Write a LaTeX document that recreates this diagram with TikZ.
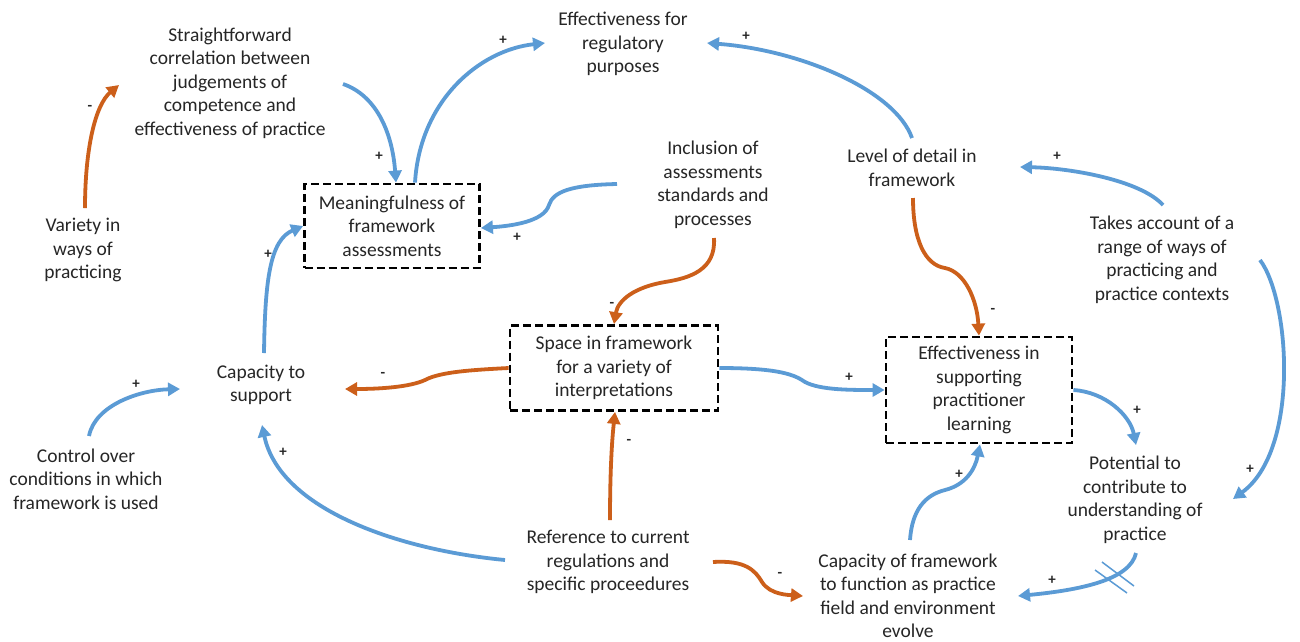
\documentclass[tikz,border=0pt]{standalone}
\usepackage{fontspec}
\setmainfont{Carlito}
\usetikzlibrary{arrows.meta,calc}
\definecolor{cblue}{HTML}{5B9BD5}
\definecolor{corange}{HTML}{CC5F1A}
\begin{document}
\begin{tikzpicture}[x=1pt,y=-1pt,
  txt/.style={align=center,font=\fontsize{19.5}{23.5}\selectfont,text=black!85,inner sep=2pt},
  dbox/.style={txt,draw=black,line width=2.8pt,dash pattern=on 8pt off 4pt},
  posarr/.style={cblue,line width=3.8pt,-{Triangle[length=12pt,width=13pt]}},
  negarr/.style={corange,line width=3.8pt,-{Triangle[length=12pt,width=13pt]}},
  sgn/.style={font=\fontsize{15}{15}\selectfont\bfseries,text=black!85,inner sep=0pt}]
\useasboundingbox (0,0) rectangle (1300,641);
\fill[white] (0,0) rectangle (1300,641);
% nodes
\node[txt] (straight) at (230,83) {Straightforward\\correlation between\\judgements of\\competence and\\effectiveness of practice};
\node[txt] (variety) at (83,250) {Variety in\\ways of\\practicing};
\node[txt] (effreg) at (623,44) {Effectiveness for\\regulatory\\purposes};
\node[dbox,minimum width=175pt,minimum height=84pt] (meaning) at (392,226) {Meaningfulness of\\framework\\assessments};
\node[txt] (inclusion) at (713,185) {Inclusion of\\assessments\\standards and\\processes};
\node[txt] (level) at (912,168) {Level of detail in\\framework};
\node[txt] (takes) at (1162,260) {Takes account of a\\range of ways of\\practicing and\\practice contexts};
\node[txt] (capsup) at (261,385) {Capacity to\\support};
\node[txt] (control) at (86,479) {Control over\\conditions in which\\framework is used};
\node[dbox,minimum width=208pt,minimum height=85pt] (space) at (614,368) {Space in framework\\for a variety of\\interpretations};
\node[dbox,minimum width=186pt,minimum height=106pt] (effsup) at (979,390) {Effectiveness in\\supporting\\practitioner\\learning};
\node[txt] (potential) at (1135,500) {Potential to\\contribute to\\understanding of\\practice};
\node[txt] (reference) at (608,562) {Reference to current\\regulations and\\specific proceedures};
\node[txt] (capfw) at (908,596) {Capacity of framework\\to function as practice\\field and environment\\evolve};
% connectors
\draw[negarr] ($(variety)+(2,-42)$) .. controls (85,150) and (95,105) .. (119,85);
\node[sgn] (s1) at (90,108) {-};
\draw[posarr] ($(straight)+(113,1)$) .. controls (375,95) and (392,130) .. ([xshift=4pt]meaning.north);
\node[sgn] (s2) at (379,156) {+};
\draw[posarr] ([xshift=23pt]meaning.north) .. controls (420,100) and (480,50) .. ($(effreg)+(-78,-1)$);
\node[sgn] (s3) at (503,40) {+};
\draw[posarr] ($(level)+(0,-30)$) .. controls (895,90) and (800,50) .. ($(effreg)+(84,-1)$);
\node[sgn] (s4) at (746,36) {+};
\draw[posarr] ($(inclusion)+(-96,-1)$) .. controls (570,185) and (553,192) .. (549,205) .. controls (544,222) and (510,226) .. ([yshift=-2pt]meaning.east);
\node[sgn] (s5) at (517,237) {+};
\draw[negarr] ($(inclusion)+(1,53)$) .. controls (716,270) and (690,278) .. (665,282) .. controls (635,287) and (618,300) .. (space.north);
\node[sgn] (s6) at (612,305) {-};
\draw[negarr] ($(level)+(1,30)$) .. controls (913,240) and (925,265) .. (945,268) .. controls (965,272) and (977,300) .. (effsup.north);
\node[sgn] (s7) at (993,311) {-};
\draw[posarr] ($(takes)+(1,-55)$) .. controls (1140,180) and (1070,168) .. ($(level)+(108,-1)$);
\node[sgn] (s8) at (1057,156) {+};
\draw[posarr] ($(takes)+(98,0)$) .. controls (1290,300) and (1300,450) .. ($(potential)+(98,-1)$);
\node[sgn] (s9) at (1250,469) {+};
\draw[negarr] (space.west) .. controls (470,370) and (440,372) .. (425,380) .. controls (410,387) and (380,389) .. ($(capsup)+(84,4)$);
\node[sgn] (s10) at (383,375) {-};
\draw[posarr] (space.east) .. controls (780,368) and (795,375) .. (805,382) .. controls (820,390) and (850,390) .. (effsup.west);
\node[sgn] (s11) at (849,377) {+};
\draw[posarr] (effsup.east) .. controls (1105,392) and (1130,415) .. ($(potential)+(1,-55)$);
\node[sgn] (s12) at (1137,410) {+};
\draw[posarr] ($(capfw)+(2,-56)$) .. controls (912,510) and (925,495) .. (945,490) .. controls (965,485) and (975,470) .. ([xshift=1pt]effsup.south);
\node[sgn] (s13) at (959,474) {+};
\draw[posarr] ($(potential)+(1,53)$) .. controls (1130,580) and (1080,590) .. ($(capfw)+(110,0)$);
\node[sgn] (s14) at (1052,580) {+};
\coordinate (h1a) at (1095,570); \coordinate (h1b) at (1127,593);
\coordinate (h2a) at (1102,562); \coordinate (h2b) at (1134,586);
\draw[cblue,line width=1.5pt] (h1a) -- (h1b) (h2a) -- (h2b);
\draw[negarr] ($(reference)+(2,-42)$) .. controls (610,470) and (612,440) .. ([xshift=1pt]space.south);
\node[sgn] (s15) at (629,442) {-};
\draw[posarr] ($(reference)+(-103,-2)$) .. controls (400,550) and (280,510) .. ($(capsup)+(1,40)$);
\node[sgn] (s16) at (283,452) {+};
\draw[negarr] ($(reference)+(105,0)$) .. controls (745,560) and (755,570) .. (762,582) .. controls (770,595) and (790,595) .. ($(capfw)+(-105,0)$);
\node[sgn] (s17) at (780,575) {-};
\draw[posarr] ($(control)+(3,-43)$) .. controls (95,405) and (140,390) .. ($(capsup)+(-81,4)$);
\node[sgn] (s18) at (136,384) {+};
\draw[posarr] ($(capsup)+(3,-32)$) .. controls (265,280) and (270,240) .. (meaning.west);
\node[sgn] (s19) at (268,254) {+};
\end{tikzpicture}
\end{document}
